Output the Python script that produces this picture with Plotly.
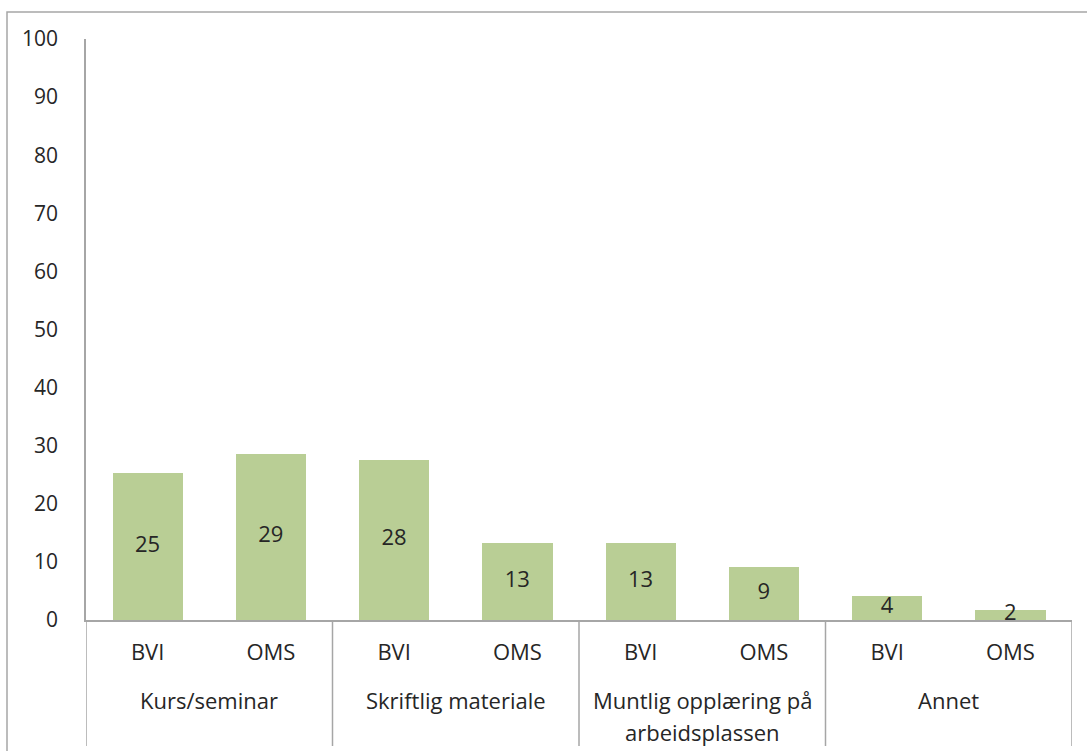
import plotly.graph_objects as go

groups = ["Kurs/seminar", "Skriftlig materiale", "Muntlig opplæring på<br>arbeidsplassen", "Annet"]
subcats = ["BVI", "OMS"]
values = [25.3, 28.6, 27.6, 13.3, 13.3, 9.2, 4.2, 1.8]
value_labels = ["25", "29", "28", "13", "13", "9", "4", "2"]
y_ticks = [0, 10, 20, 30, 40, 50, 60, 70, 80, 90, 100]

BAR = "#B9CE95"
TXT = "#262626"
LINE = "#A6A6A6"
FONT = "Open Sans"
FS = 22
FS_Y = 21

n_sub = len(subcats)
xs = list(range(len(values)))
sub_labels = [subcats[i % n_sub] for i in xs]

W, H = 1087, 751
L, R, T, B = 86, 15, 39, 131
plot_h = H - T - B
plot_w = W - L - R

fig = go.Figure()
fig.add_trace(go.Bar(x=xs, y=values, marker=dict(color=BAR, line=dict(width=0)),
                     width=0.57, hoverinfo="skip"))
fig.add_trace(go.Scatter(x=xs, y=[v / 2 for v in values], mode="text", text=value_labels,
                         textfont=dict(family=FONT, size=FS, color=TXT), hoverinfo="skip"))

shapes = []
# group dividers
for g in range(len(groups) + 1):
    xpos = g * n_sub - 0.5
    shapes.append(dict(type="line", xref="x", yref="paper", x0=xpos, x1=xpos,
                       y0=0, y1=-(746 - (H - B)) / plot_h, line=dict(color=LINE, width=1.5)))
# chart border
shapes.append(dict(type="rect", xref="paper", yref="paper",
                   x0=(7 - L) / plot_w, x1=(W + 20 - L) / plot_w,
                   y0=-(H + 20 - (H - B)) / plot_h, y1=((H - B) - 12) / plot_h,
                   line=dict(color=LINE, width=1.5), fillcolor="rgba(0,0,0,0)", layer="above"))

annotations = []
for g, name in enumerate(groups):
    xc = g * n_sub + (n_sub - 1) / 2
    for li, line in enumerate(name.split("<br>")):
        yc = 700 + li * 32
        annotations.append(dict(x=xc, xref="x", y=-(yc - (H - B)) / plot_h, yref="paper",
                                text=line, showarrow=False, yanchor="middle", xanchor="center",
                                font=dict(family=FONT, size=FS, color=TXT)))

fig.update_layout(
    width=W, height=H, margin=dict(l=L, r=R, t=T, b=B),
    paper_bgcolor="white", plot_bgcolor="white", showlegend=False,
    font=dict(family=FONT, size=FS, color=TXT),
    bargap=0,
    xaxis=dict(range=[-0.5, len(values) - 0.5], tickvals=xs, ticktext=sub_labels,
               showline=True, linecolor=LINE, linewidth=1.5, showgrid=False, zeroline=False,
               ticks="", ticklabelstandoff=12, tickfont=dict(family=FONT, size=FS, color=TXT)),
    yaxis=dict(range=[0, 100], tickvals=y_ticks, showline=True, linecolor=LINE, linewidth=1.5,
               showgrid=False, zeroline=False, ticks="", ticklabelstandoff=22,
               tickfont=dict(family=FONT, size=FS_Y, color=TXT)),
    shapes=shapes, annotations=annotations,
)

fig.write_html("out.html")
